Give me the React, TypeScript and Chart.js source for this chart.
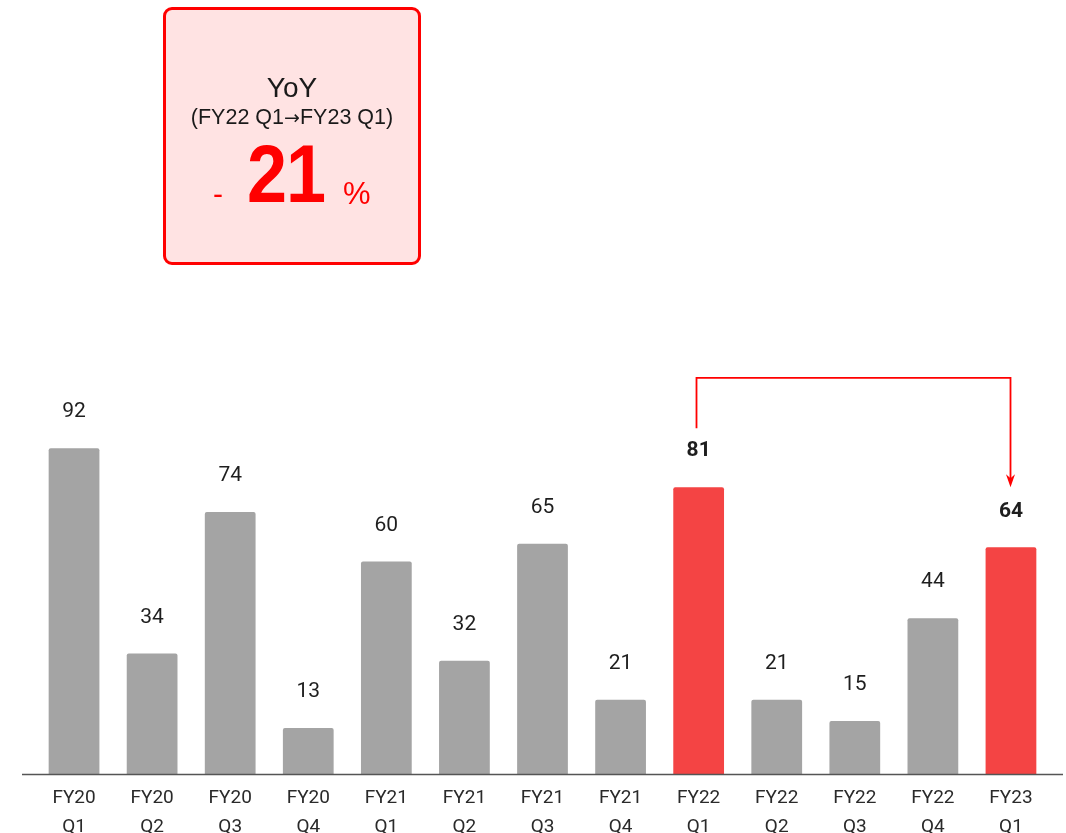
import React, { useEffect, useRef } from "react";
import { Chart, registerables } from "chart.js";

Chart.register(...registerables);

// Quarterly values
const fiscalYears = ["FY20", "FY20", "FY20", "FY20", "FY21", "FY21", "FY21", "FY21", "FY22", "FY22", "FY22", "FY22", "FY23"];
const quarters = ["Q1", "Q2", "Q3", "Q4", "Q1", "Q2", "Q3", "Q4", "Q1", "Q2", "Q3", "Q4", "Q1"];
const values = [92, 34, 74, 13, 60, 32, 65, 21, 81, 21, 15, 44, 64];
// Quarters compared in the YoY callout
const compareFrom = 8;
const compareTo = 12;
const yoyPercent = -21;

const GRAY = "#a4a4a4";
const RED = "#f44444";

const W = 1066;
const H = 833;

const valueLabels = {
  id: "valueLabels",
  afterDatasetsDraw(chart: any) {
    const { ctx } = chart;
    const meta = chart.getDatasetMeta(0);
    ctx.save();
    ctx.textAlign = "center";
    ctx.textBaseline = "middle";
    ctx.fillStyle = "#1e1e1e";
    meta.data.forEach((bar: any, i: number) => {
      const hl = i === compareFrom || i === compareTo;
      ctx.font = `${hl ? "bold " : ""}21px Roboto`;
      ctx.fillText(String(values[i]), bar.x, bar.y - 36);
    });
    ctx.restore();
  },
};

const baselineAndArrow = {
  id: "baselineAndArrow",
  afterDraw(chart: any) {
    const { ctx } = chart;
    const y0 = chart.scales.y.getPixelForValue(0);
    ctx.save();
    // baseline
    ctx.strokeStyle = "#555555";
    ctx.lineWidth = 1.5;
    ctx.beginPath();
    ctx.moveTo(22, y0 + 0.5);
    ctx.lineTo(1063, y0 + 0.5);
    ctx.stroke();

    // comparison arrow
    const meta = chart.getDatasetMeta(0);
    const a = meta.data[compareFrom];
    const b = meta.data[compareTo];
    const xa = Math.round(a.x) - 2.5;
    const xb = Math.round(b.x) - 0.5;
    const top = chart.scales.y.getPixelForValue(112) + 0.5;
    const ya = a.y - 59;
    const tip = b.y - 60;
    ctx.strokeStyle = "#ff0000";
    ctx.fillStyle = "#ff0000";
    ctx.lineWidth = 1.8;
    ctx.beginPath();
    ctx.moveTo(xa, ya);
    ctx.lineTo(xa, top);
    ctx.lineTo(xb, top);
    ctx.lineTo(xb, tip - 8);
    ctx.stroke();
    ctx.beginPath();
    ctx.moveTo(xb - 4.5, tip - 13);
    ctx.lineTo(xb, tip - 9);
    ctx.lineTo(xb + 4.5, tip - 13);
    ctx.lineTo(xb, tip);
    ctx.closePath();
    ctx.fill();
    ctx.restore();
  },
};

export default function App() {
  const canvasRef = useRef<HTMLCanvasElement>(null);

  useEffect(() => {
    const canvas = canvasRef.current;
    if (!canvas) return;
    const chart = new Chart(canvas, {
      type: "bar",
      data: {
        labels: fiscalYears.map((fy, i) => [fy, quarters[i]]),
        datasets: [
          {
            data: values,
            backgroundColor: values.map((_, i) => (i === compareFrom || i === compareTo ? RED : GRAY)),
            barPercentage: 0.65,
            categoryPercentage: 1,
            borderRadius: 2,
            borderSkipped: "bottom",
          },
        ],
      },
      options: {
        responsive: false,
        animation: false,
        events: [],
        layout: { padding: { top: 349, left: 35, right: 16, bottom: 0 } },
        plugins: { legend: { display: false }, tooltip: { enabled: false } },
        scales: {
          x: {
            grid: { display: false, drawTicks: false },
            border: { display: false },
            ticks: {
              color: "#2a2a2a",
              font: { family: "Roboto", size: 19, lineHeight: 1.5 },
              padding: 10,
              maxRotation: 0,
              autoSkip: false,
            },
            afterFit(scale: any) {
              scale.height = 59;
            },
          },
          y: {
            display: false,
            min: 0,
            max: 120,
          },
        },
      },
      plugins: [valueLabels, baselineAndArrow],
    });
    return () => chart.destroy();
  }, []);

  const sign = yoyPercent < 0 ? "-" : "+";

  return (
    <div style={{ position: "absolute", left: 0, top: 0, width: W, height: H, background: "#ffffff", overflow: "hidden" }}>
      <canvas ref={canvasRef} width={W} height={H} style={{ position: "absolute", left: 0, top: 0 }} />
      <div
        style={{
          position: "absolute",
          left: 163,
          top: 7,
          width: 252,
          height: 252,
          border: "3.5px solid #ff0000",
          borderRadius: 9,
          background: "#ffe3e3",
          fontFamily: "'Liberation Sans', Arial, sans-serif",
          color: "#1a1a1a",
        }}
      >
        <div style={{ position: "absolute", left: 0, right: 0, top: 63, textAlign: "center", fontSize: 28, lineHeight: "30px" }}>
          YoY
        </div>
        <div
          style={{
            position: "absolute",
            left: 0,
            right: 0,
            top: 95,
            textAlign: "center",
            fontSize: 21.5,
            lineHeight: "24px",
            whiteSpace: "nowrap",
          }}
        >
          (FY22 Q1<span style={{ fontFamily: "'DejaVu Sans', sans-serif", fontSize: 19 }}>→</span>FY23 Q1)
        </div>
        <div
          style={{
            position: "absolute",
            left: 0,
            right: 0,
            top: 125,
            textAlign: "center",
            color: "#ff0000",
            whiteSpace: "nowrap",
            height: 80,
          }}
        >
          <span style={{ position: "absolute", left: 47, top: 44, fontSize: 30, lineHeight: "30px" }}>{sign}</span>
          <span
            style={{
              position: "absolute",
              left: 81,
              top: 1,
              fontSize: 72,
              fontWeight: "bold",
              lineHeight: "80px",
              display: "inline-block",
              transform: "scaleY(1.14)",
              transformOrigin: "50% 72%",
              letterSpacing: -1,
            }}
          >
            {Math.abs(yoyPercent)}
          </span>
          <span style={{ position: "absolute", left: 177, top: 43, fontSize: 31, lineHeight: "32px" }}>%</span>
        </div>
      </div>
    </div>
  );
}
